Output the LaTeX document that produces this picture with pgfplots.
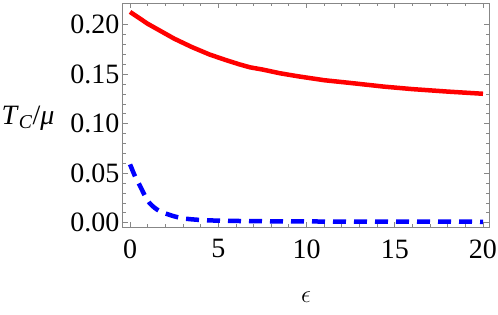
\documentclass[border=0pt]{standalone}
\usepackage{fontspec}
\setmainfont{Liberation Serif}
\usepackage{pgfplots}
\pgfplotsset{compat=1.18}
\definecolor{framegray}{RGB}{135,135,135}
\begin{document}
\begin{tikzpicture}
\useasboundingbox (-123pt,-87pt) rectangle (375pt,227pt);
\begin{axis}[
  at={(0pt,0pt)}, anchor=south west,
  scale only axis, width=366pt, height=224pt,
  xmin=-0.4, xmax=20.34, ymin=-0.0043, ymax=0.222,
  axis line style={framegray, line width=1pt},
  xtick={0,5,10,15,20}, minor x tick num=4,
  ytick={0,0.05,0.1,0.15,0.2}, minor y tick num=4,
  tick align=inside, major tick length=5pt, minor tick length=3pt,
  every tick/.style={framegray, line width=0.8pt},
  tick label style={font=\fontsize{28}{32}\selectfont, black},
  /pgf/number format/assume math mode=true,
  yticklabel style={/pgf/number format/.cd, fixed, fixed zerofill, precision=2},
  xticklabel style={yshift=-9pt},
  clip=false,
]
\addplot[red, line width=4.5pt, line join=round] coordinates {
(0,0.213) (0.5,0.207) (1,0.201) (1.6,0.195) (2.5,0.186) (3.5,0.1775)
(4.5,0.170) (5.4,0.1645) (6.2,0.160) (6.8,0.157) (7.5,0.1548) (8.5,0.151)
(9.5,0.148) (11,0.144) (12.5,0.1412) (14.4,0.1375) (16,0.135) (18,0.1325) (20,0.1303)
};
\addplot[blue, line width=4.5pt, dash pattern=on 13pt off 8pt, smooth] coordinates {
(0,0.059) (0.28,0.047) (0.57,0.037) (0.85,0.027) (1.1,0.020) (1.4,0.015)
(1.7,0.0115) (2.1,0.0088) (2.5,0.0065) (2.9,0.0048) (3.3,0.0038) (4,0.0028)
(5,0.0021) (6,0.0018) (8,0.0015) (10,0.0013) (14,0.0011) (20,0.001)
};
\node[font=\fontsize{28}{32}\selectfont] at (axis description cs:0.5,0) [yshift=-70pt] {$\epsilon$};
\node[font=\fontsize{28}{32}\selectfont] at (axis description cs:0,0.5) [xshift=-95pt, yshift=-3pt] {\textit{T}\textsubscript{\textit{C}}/\textit{μ}};
\end{axis}
\end{tikzpicture}
\end{document}
